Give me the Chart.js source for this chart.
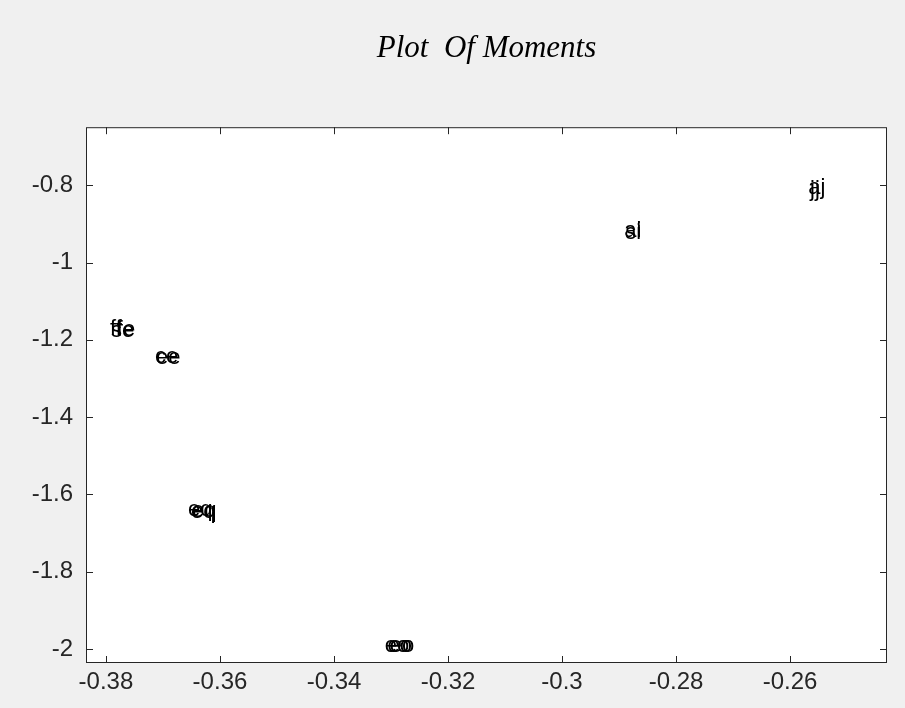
<!DOCTYPE html>
<html>
<head>
<meta charset="utf-8">
<script src="https://cdn.jsdelivr.net/npm/chart.js@4.4.1/dist/chart.umd.min.js"></script>
<style>
  html, body { margin: 0; padding: 0; background: #f0f0f0; }
  canvas { display: block; }
</style>
</head>
<body>
<canvas id="moments" width="905" height="708"></canvas>
<script>
// text labels placed at each moment point (overlapping, as in the original)
var pointLabels = ['ff', 'se', 'fe', 'ce', 'ee', 'eq', 'eq', 'eq', 'eo', 'eo', 'eo', 'ai', 'si', 'aj', 'jj'];
var xValues = [-0.3793, -0.3791, -0.3781, -0.3714, -0.3712, -0.3656, -0.3651, -0.3649, -0.3311, -0.3306, -0.3302, -0.2891, -0.2889, -0.2568, -0.2565];
var yValues = [-1.172, -1.177, -1.175, -1.243, -1.246, -1.640, -1.646, -1.643, -1.992, -1.992, -1.992, -0.919, -0.923, -0.807, -0.811];

var xTicks = [-0.38, -0.36, -0.34, -0.32, -0.3, -0.28, -0.26];
var yTicks = [-2, -1.8, -1.6, -1.4, -1.2, -1, -0.8];

var axisColor = '#262626';

// background, white plot box, box frame, inner ticks and text labels
var matlabLook = {
  id: 'matlabLook',
  beforeDraw: function(chart) {
    var ctx = chart.ctx, a = chart.chartArea;
    ctx.save();
    ctx.fillStyle = '#f0f0f0';
    ctx.fillRect(0, 0, chart.width, chart.height);
    ctx.fillStyle = '#ffffff';
    ctx.fillRect(a.left, a.top, a.right - a.left, a.bottom - a.top);
    ctx.restore();
  },
  afterDraw: function(chart) {
    var ctx = chart.ctx, a = chart.chartArea;
    var xs = chart.scales.x, ys = chart.scales.y;
    ctx.save();
    ctx.strokeStyle = axisColor;
    ctx.lineWidth = 1;
    ctx.strokeRect(a.left + 0.5, a.top + 0.5, a.right - a.left - 1, a.bottom - a.top - 1);
    ctx.beginPath();
    xTicks.forEach(function(v) {
      var px = Math.round(xs.getPixelForValue(v)) + 0.5;
      ctx.moveTo(px, a.bottom); ctx.lineTo(px, a.bottom - 7);
      ctx.moveTo(px, a.top); ctx.lineTo(px, a.top + 7);
    });
    yTicks.forEach(function(v) {
      var py = Math.round(ys.getPixelForValue(v)) + 0.5;
      ctx.moveTo(a.left, py); ctx.lineTo(a.left + 7, py);
      ctx.moveTo(a.right, py); ctx.lineTo(a.right - 7, py);
    });
    ctx.stroke();

    // the labels themselves
    ctx.fillStyle = '#000000';
    ctx.font = '22px "Liberation Sans", Arial, sans-serif';
    ctx.textAlign = 'left';
    ctx.textBaseline = 'middle';
    pointLabels.forEach(function(t, i) {
      ctx.fillText(t, xs.getPixelForValue(xValues[i]), ys.getPixelForValue(yValues[i]));
    });
    ctx.restore();
  }
};

var points = xValues.map(function(x, i) { return { x: x, y: yValues[i] }; });

var ctx = document.getElementById('moments').getContext('2d');
var chart = new Chart(ctx, {
  type: 'scatter',
  data: {
    datasets: [{
      label: 'moments',
      data: points,
      pointRadius: 0,
      pointHoverRadius: 0,
      showLine: false
    }]
  },
  options: {
    responsive: false,
    animation: false,
    events: [],
    layout: { padding: { left: 0, right: 18, top: 0, bottom: 0 } },
    plugins: {
      legend: { display: false },
      tooltip: { enabled: false },
      title: {
        display: true,
        fullSize: false,
        text: 'Plot  Of Moments',
        color: '#000000',
        font: { family: '"Liberation Serif", "Times New Roman", serif', size: 31, style: 'italic', weight: 'normal', lineHeight: 1.2 },
        padding: { top: 30, bottom: 60 }
      }
    },
    scales: {
      x: {
        type: 'linear',
        min: -0.3835,
        max: -0.243,
        afterBuildTicks: function(scale) {
          scale.ticks = xTicks.map(function(v) { return { value: v }; });
        },
        afterFit: function(scale) { scale.height = 45; },
        grid: { display: true, drawOnChartArea: false, drawTicks: false },
        border: { display: false },
        ticks: {
          padding: 5,
          color: axisColor,
          font: { family: '"Liberation Sans", Arial, sans-serif', size: 24 },
          maxRotation: 0,
          callback: function(v) { return String(Math.round(v * 100) / 100); }
        }
      },
      y: {
        type: 'linear',
        min: -2.036,
        max: -0.65,
        afterBuildTicks: function(scale) {
          scale.ticks = yTicks.map(function(v) { return { value: v }; });
        },
        afterFit: function(scale) { scale.width = 86; },
        grid: { display: true, drawOnChartArea: false, drawTicks: false },
        border: { display: false },
        ticks: {
          padding: 13,
          color: axisColor,
          font: { family: '"Liberation Sans", Arial, sans-serif', size: 24 },
          callback: function(v) { return String(Math.round(v * 100) / 100); }
        }
      }
    }
  },
  plugins: [matlabLook]
});
</script>
</body>
</html>
